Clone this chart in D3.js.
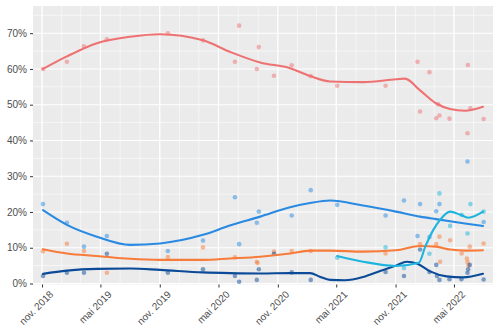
<!DOCTYPE html>
<html>
<head>
<meta charset="utf-8">
<script src="https://cdn.jsdelivr.net/npm/d3@7"></script>
<style>
  html, body { margin: 0; padding: 0; background: #fff; }
  svg { display: block; font-family: "Liberation Sans", Arial, sans-serif; }
</style>
</head>
<body>
<svg id="chart" width="500" height="334"></svg>
<script>
// ---- Poll results (date, share in %) ----
const redPolls = [
  ["2018-11-04",60],["2019-01-17",62],["2019-03-11",66.3],["2019-05-21",68.3],
  ["2019-11-26",70],["2020-03-14",68],["2020-06-21",62],["2020-07-04",72.1],
  ["2020-08-28",60],["2020-09-03",66.1],["2020-10-20",58.1],["2020-12-14",61],
  ["2021-02-11",58],["2021-05-04",55.3],["2021-10-01",55.3],["2022-01-08",62],
  ["2022-01-16",48.1],["2022-02-14",59.1],["2022-03-07",46.2],["2022-03-13",50.1],
  ["2022-03-17",47],["2022-04-17",46.1],["2022-06-12",42],["2022-06-13",61.1],
  ["2022-06-21",49],["2022-08-01",46]
];
const bluePolls = [
  ["2018-11-04",22.2],["2019-01-17",17],["2019-03-11",10.3],["2019-05-21",13.3],
  ["2019-11-26",9.1],["2020-03-14",12],["2020-06-21",24.1],["2020-07-04",11],
  ["2020-08-28",17],["2020-09-03",20.1],["2020-12-14",19],["2021-02-11",26.1],
  ["2021-05-04",22],["2021-10-01",19],["2021-11-27",23.2],["2022-01-08",13.3],
  ["2022-01-16",22.2],["2022-02-14",13],["2022-03-07",20.2],["2022-03-17",22.2],
  ["2022-06-12",34.1],["2022-08-01",17.2]
];
const orangePolls = [
  ["2018-11-04",9],["2019-01-17",11.1],["2019-03-11",9.1],["2019-05-21",3],
  ["2019-11-26",7.4],["2020-03-14",10.1],["2020-06-21",7.3],["2020-08-28",6.1],
  ["2020-08-30",5.7],["2020-10-20",8.9],["2020-12-14",9.1],["2021-02-11",9.1],
  ["2021-10-01",8.4],["2022-01-16",11],["2022-03-07",11],["2022-03-17",13.1],
  ["2022-03-19",6.1],["2022-04-19",12.1],["2022-05-25",8.4],["2022-06-10",7],
  ["2022-06-12",6],["2022-06-15",5],["2022-06-19",10.3],["2022-08-01",11.2]
];
const navyPolls = [
  ["2018-11-04",2.1],["2019-01-17",3],["2019-03-11",3],["2019-05-21",8.3],
  ["2019-11-26",3],["2020-03-14",4],["2020-06-21",2.1],["2020-07-04",0.5],
  ["2020-08-28",1],["2020-09-03",4],["2020-10-20",8.3],["2020-12-14",3.1],
  ["2021-02-11",1],["2021-10-01",3.2],["2021-11-27",2.1],["2022-01-16",9.5],
  ["2022-02-14",3.2],["2022-03-07",5.2],["2022-03-09",2.1],["2022-03-17",1],
  ["2022-04-17",1.2],["2022-05-24",1.2],["2022-06-12",3],["2022-06-14",4],
  ["2022-06-19",5.2],["2022-08-01",1.1]
];
const cyanPolls = [
  ["2021-05-04",7.2],["2021-10-01",10.1],["2021-11-27",4.3],["2022-02-14",8.3],
  ["2022-03-17",25.2],["2022-04-19",16.1],["2022-05-25",19.2],["2022-06-12",14],
  ["2022-06-21",22.2],["2022-08-01",20.1]
];

// ---- Smoothed trend of each series (date, %) ----
const redTrend = [
  ["2018-11-04",60],["2019-01-17",63.5],["2019-04-20",67.2],["2019-08-01",69],
  ["2019-11-02",69.7],["2020-03-14",68],["2020-06-05",64.8],["2020-09-07",61.8],
  ["2020-12-09",60.2],["2021-02-09",58],["2021-04-12",56.5],["2021-07-23",56.3],
  ["2021-11-02",57.1],["2021-11-30",57.3],["2022-01-16",54],["2022-03-06",50.4],
  ["2022-04-19",48.8],["2022-06-04",48.3],["2022-07-30",49.4]
];
const blueTrend = [
  ["2018-11-04",20.5],["2019-01-17",16.4],["2019-04-20",13.1],["2019-08-01",10.8],
  ["2019-11-02",11.2],["2020-03-14",13.6],["2020-06-05",16.2],["2020-09-07",18.7],
  ["2020-12-09",21.3],["2021-02-09",22.5],["2021-04-12",23.2],["2021-07-23",21.8],
  ["2021-11-02",20.1],["2022-01-16",18.7],["2022-03-06",18],["2022-04-19",17.4],
  ["2022-06-04",16.8],["2022-07-30",16.1]
];
const orangeTrend = [
  ["2018-11-04",9.6],["2019-01-17",8.4],["2019-04-20",7.7],["2019-08-01",6.9],
  ["2019-11-02",6.6],["2020-03-14",6.6],["2020-06-05",7],["2020-09-07",7.5],
  ["2020-12-09",8.4],["2021-02-09",9.2],["2021-04-12",9.2],["2021-07-23",8.9],
  ["2021-11-02",9.3],["2022-01-16",10.5],["2022-03-06",10.3],["2022-04-19",9.5],
  ["2022-06-04",9.2],["2022-07-30",9.3]
];
const navyTrend = [
  ["2018-11-04",2.7],["2019-01-17",3.6],["2019-04-20",4.1],["2019-08-01",4.2],
  ["2019-11-02",3.8],["2020-03-14",3.1],["2020-06-05",2.9],["2020-09-07",2.8],
  ["2020-12-09",2.9],["2021-02-09",2.9],["2021-03-11",1.9],["2021-04-12",1.0],
  ["2021-05-28",0.9],["2021-07-23",1.8],["2021-09-14",3.5],["2021-11-02",5.0],
  ["2021-12-06",6.1],["2022-01-06",5.6],["2022-02-16",3.4],["2022-04-08",2.0],
  ["2022-05-29",1.7],["2022-07-30",2.7]
];
const cyanTrend = [
  ["2021-05-04",7.7],["2021-07-23",6.1],["2021-11-02",4.9],["2022-01-12",5.8],
  ["2022-02-01",10.3],["2022-02-26",15],["2022-03-19",17.8],["2022-04-19",20.1],
  ["2022-05-21",19.2],["2022-06-14",18.4],["2022-07-30",20.1]
];

// ---- Axis ticks ----
const xTickDates = ["2018-11-01","2019-05-01","2019-11-01","2020-05-01",
                    "2020-11-01","2021-05-01","2021-11-01","2022-05-01"];
const xTickLabels = ["nov. 2018","mai 2019","nov. 2019","mai 2020",
                     "nov. 2020","mai 2021","nov. 2021","mai 2022"];
const yTicks = [0, 10, 20, 30, 40, 50, 60, 70];
const yTickLabels = ["0%","10%","20%","30%","40%","50%","60%","70%"];

// ---- Drawing ----
const parse = d3.utcParse("%Y-%m-%d");
const svg = d3.select("#chart");
const panel = { left: 33, right: 493, top: 6, bottom: 284.5 };

const x = d3.scaleUtc()
  .domain([parse("2018-10-04"), parse("2022-08-30")])
  .range([panel.left, panel.right]);
const y = d3.scaleLinear()
  .domain([-0.28, 77.6])
  .range([panel.bottom, panel.top]);

const series = [
  { polls: redPolls,    trend: redTrend,    color: "#EE7272" },
  { polls: bluePolls,   trend: blueTrend,   color: "#2A8AE2" },
  { polls: orangePolls, trend: orangeTrend, color: "#F77B3A" },
  { polls: navyPolls,   trend: navyTrend,   color: "#0A4A98" },
  { polls: cyanPolls,   trend: cyanTrend,   color: "#1DB4DE" }
];

// panel background
svg.append("rect")
  .attr("x", panel.left).attr("y", panel.top)
  .attr("width", panel.right - panel.left)
  .attr("height", panel.bottom - panel.top)
  .attr("fill", "#EBEBEB");

const grid = svg.append("g");
// minor grid: every two months between the half-year breaks, every 5 %
const minorX = d3.utcMonth.every(2).range(parse("2018-09-01"), parse("2022-09-02"))
  .filter(d => x(d) >= panel.left && x(d) <= panel.right);
grid.selectAll(".mx").data(minorX).join("line")
  .attr("x1", d => x(d)).attr("x2", d => x(d))
  .attr("y1", panel.top).attr("y2", panel.bottom)
  .attr("stroke", "#fff").attr("stroke-width", 0.55);
const minorY = d3.range(5, 80, 10);
grid.selectAll(".my").data(minorY).join("line")
  .attr("x1", panel.left).attr("x2", panel.right)
  .attr("y1", d => y(d)).attr("y2", d => y(d))
  .attr("stroke", "#fff").attr("stroke-width", 0.55);
// major grid
grid.selectAll(".Mx").data(xTickDates).join("line")
  .attr("x1", d => x(parse(d))).attr("x2", d => x(parse(d)))
  .attr("y1", panel.top).attr("y2", panel.bottom)
  .attr("stroke", "#fff").attr("stroke-width", 1.1);
grid.selectAll(".My").data(yTicks).join("line")
  .attr("x1", panel.left).attr("x2", panel.right)
  .attr("y1", d => y(d)).attr("y2", d => y(d))
  .attr("stroke", "#fff").attr("stroke-width", 1.1);

// poll points
series.forEach(s => {
  svg.append("g").selectAll("circle").data(s.polls).join("circle")
    .attr("cx", d => x(parse(d[0])))
    .attr("cy", d => y(d[1]))
    .attr("r", 2.3)
    .attr("fill", s.color)
    .attr("fill-opacity", 0.5);
});

// trend lines
const line = d3.line()
  .x(d => x(parse(d[0])))
  .y(d => y(d[1]))
  .curve(d3.curveMonotoneX);
series.forEach(s => {
  svg.append("path")
    .datum(s.trend)
    .attr("d", line)
    .attr("fill", "none")
    .attr("stroke", s.color)
    .attr("stroke-width", 2.1)
    .attr("stroke-linecap", "round");
});

// axes
const xAxis = d3.axisBottom(x)
  .tickValues(xTickDates.map(parse))
  .tickFormat((d, i) => xTickLabels[i])
  .tickSize(3).tickPadding(2);
const gx = svg.append("g")
  .attr("transform", `translate(0,${panel.bottom})`)
  .call(xAxis);
gx.select(".domain").remove();
gx.selectAll(".tick line").attr("stroke", "#333").attr("stroke-width", 1);
gx.selectAll(".tick text")
  .attr("fill", "#4D4D4D")
  .style("font-size", "10px")
  .style("font-family", "'Liberation Sans', Arial, sans-serif")
  .attr("text-anchor", "end")
  .attr("dy", "0.7em")
  .attr("transform", "translate(3,2) rotate(-45)");

const yAxis = d3.axisLeft(y)
  .tickValues(yTicks)
  .tickFormat((d, i) => yTickLabels[i])
  .tickSize(3).tickPadding(3);
const gy = svg.append("g")
  .attr("transform", `translate(${panel.left},0)`)
  .call(yAxis);
gy.select(".domain").remove();
gy.selectAll(".tick line").attr("stroke", "#333").attr("stroke-width", 1);
gy.selectAll(".tick text")
  .attr("fill", "#4D4D4D")
  .style("font-size", "10px")
  .style("font-family", "'Liberation Sans', Arial, sans-serif");
</script>
</body>
</html>
